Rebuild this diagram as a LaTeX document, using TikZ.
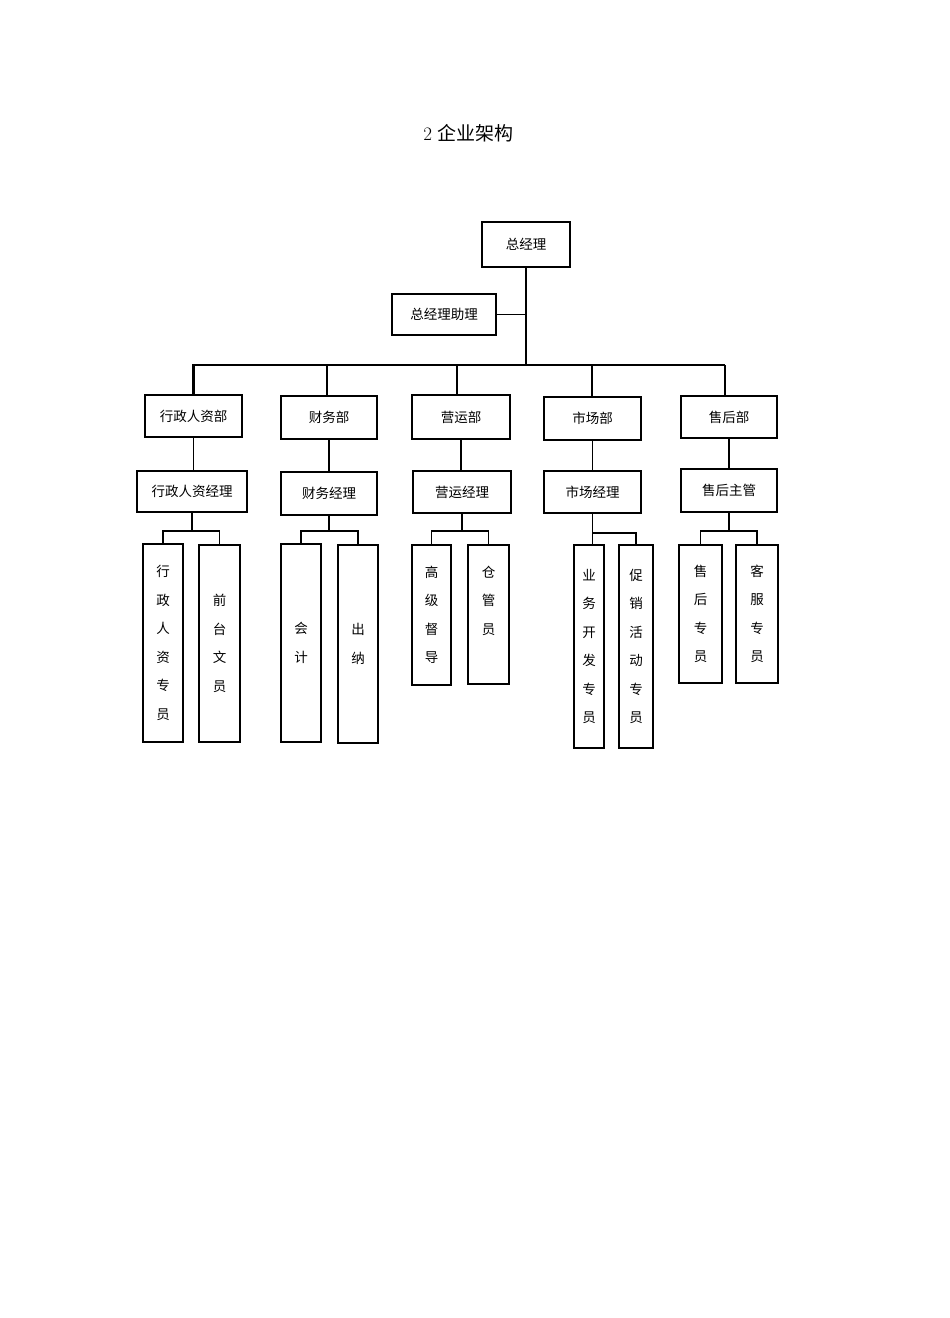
\documentclass[tikz,border=0pt]{standalone}
\usepackage{fontspec}
\newfontfamily\cjk{Noto Sans CJK SC}
\begin{document}
\begin{tikzpicture}[x=1pt, y=-1pt,
    sz/.style 2 args={minimum width=#1pt, minimum height=#2pt},
    box/.style={draw, line width=1.1pt, inner sep=0pt, font=\cjk\fontsize{13.5}{16}\selectfont},
    vbox/.style={box, align=center, font=\cjk\fontsize{13.5}{28.5}\selectfont},
    link/.style={line width=1.1pt},
    fork/.style={line width=1.8pt},
    bus/.style={line width=2.6pt}]
    \useasboundingbox (0,0) rectangle (950,1318);
    \fill[white] (0,0) rectangle (950,1318);
    \node[font=\fontsize{19}{22}\selectfont] (title) at (468.5,133.5) {2 {\cjk 企业架构}};
    % top
    \node[box, sz={88}{45}] (gm) at (526,244.5) {总经理};
    \node[box, sz={104}{41}] (asst) at (444,314.5) {总经理助理};
    % departments
    \node[box, sz={97}{42}] (xz) at (193.5,416) {行政人资部};
    \node[box, sz={96}{43}] (cw) at (329,417.5) {财务部};
    \node[box, sz={98}{44}] (yy) at (461,417) {营运部};
    \node[box, sz={97}{43}] (sc) at (592.5,418.5) {市场部};
    \node[box, sz={96}{42}] (sh) at (729,417) {售后部};
    % managers
    \node[box, sz={110}{41}] (xzm) at (192,491.5) {行政人资经理};
    \node[box, sz={96}{43}] (cwm) at (329,493.5) {财务经理};
    \node[box, sz={98}{42}] (yym) at (462,492) {营运经理};
    \node[box, sz={97}{42}] (scm) at (592.5,492) {市场经理};
    \node[box, sz={96}{43}] (shm) at (729,490.5) {售后主管};
    % staff
    \node[vbox, sz={40}{198}] (s1) at (163,643) {行\\政\\人\\资\\专\\员};
    \node[vbox, sz={41}{197}] (s2) at (219.5,643.5) {前\\台\\文\\员};
    \node[vbox, sz={40}{198}] (s3) at (301,643) {会\\计};
    \node[vbox, sz={40}{198}] (s4) at (358,644) {出\\纳};
    \node[vbox, sz={39}{140}] (s5) at (431.5,615) {高\\级\\督\\导};
    \node[vbox, sz={41}{139}] (s6) at (488.5,614.5) {仓\\管\\员\\\mbox{}};
    \node[vbox, sz={30}{203}] (s7) at (589,646.5) {业\\务\\开\\发\\专\\员};
    \node[vbox, sz={34}{203}] (s8) at (636,646.5) {促\\销\\活\\动\\专\\员};
    \node[vbox, sz={43}{138}] (s9) at (700.5,614) {售\\后\\专\\员};
    \node[vbox, sz={42}{138}] (s10) at (757,614) {客\\服\\专\\员};
    % trunk and bus
    \coordinate (b5) at (725,365);
    \draw[bus] (gm.south) -- (gm.south |- b5);
    \draw[bus] (xz.north) |- (b5);
    \draw[link] (b5) -- (b5 |- sh.north);
    \draw[link] (asst.east) -- (asst.east -| gm.south);
    \foreach \d/\x in {cw/327, yy/457, sc/592}
        \draw[link] (\x,365) -- (\x,365 |- \d.north);
    % departments to managers
    \foreach \d in {xz, cw, sc, sh}
        \draw[link] (\d.south) -- (\d.south |- \d m.north);
    \draw[fork] (yy.south) -- (yy.south |- yym.north);
    % forks
    \foreach \m/\a/\b in {xzm/s1/s2, cwm/s3/s4, yym/s5/s6, shm/s9/s10}{
        \draw[fork] (\m.south) -- (\m.south |- 0,531);
        \draw[fork] (\a.north) |- (\m.south |- 0,531) -| (\b.north);
    }
    \draw[fork] (scm.south) -- (scm.south |- s7.north);
    \draw[fork] (scm.south |- 0,533) -| (s8.north);
\end{tikzpicture}
\end{document}
